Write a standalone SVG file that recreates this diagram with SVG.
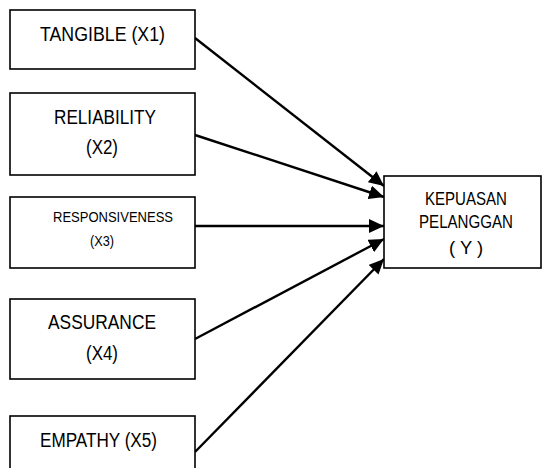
<svg xmlns="http://www.w3.org/2000/svg" width="542" height="468" viewBox="0 0 542 468">
<style>
.box{fill:#fff;stroke:#000;stroke-width:1.6}
.t{font-family:"Liberation Sans",Arial,sans-serif;font-size:19.5px;fill:#000;text-anchor:middle}
.s{font-size:14px}
.r{font-size:18.5px}
.c{stroke:#000;stroke-width:2.4;fill:none;marker-end:url(#ah)}
</style>
<defs>
<marker id="ah" markerUnits="userSpaceOnUse" markerWidth="16" markerHeight="14" refX="15" refY="7" orient="auto">
<path d="M0,0 L15,7 L0,14 Z" fill="#000"/>
</marker>
</defs>
<rect width="542" height="468" fill="#fff"/>
<g id="connectors">
<line class="c" x1="195" y1="38" x2="384" y2="186"/>
<line class="c" x1="195" y1="135" x2="384" y2="197"/>
<line class="c" x1="195" y1="226" x2="384" y2="226"/>
<line class="c" x1="195" y1="339" x2="384" y2="239"/>
<line class="c" x1="195" y1="452" x2="384" y2="259"/>
</g>
<g id="x1">
<rect class="box" x="10" y="10" width="185" height="59"/>
<text class="t" x="102.5" y="41" textLength="125" lengthAdjust="spacingAndGlyphs">TANGIBLE (X1)</text>
</g>
<g id="x2">
<rect class="box" x="10" y="93" width="185" height="82"/>
<text class="t" x="105" y="124" textLength="102" lengthAdjust="spacingAndGlyphs">RELIABILITY</text>
<text class="t" x="102" y="154" textLength="32" lengthAdjust="spacingAndGlyphs">(X2)</text>
</g>
<g id="x3">
<rect class="box" x="10" y="197" width="185" height="71"/>
<text class="t s" x="113" y="221.5" textLength="120" lengthAdjust="spacingAndGlyphs">RESPONSIVENESS</text>
<text class="t s" x="102" y="246" textLength="24" lengthAdjust="spacingAndGlyphs">(X3)</text>
</g>
<g id="x4">
<rect class="box" x="10" y="299" width="185" height="80"/>
<text class="t" x="102" y="329" textLength="108" lengthAdjust="spacingAndGlyphs">ASSURANCE</text>
<text class="t" x="102" y="360" textLength="32" lengthAdjust="spacingAndGlyphs">(X4)</text>
</g>
<g id="x5">
<rect class="box" x="10" y="416" width="185" height="70"/>
<text class="t" x="98.5" y="446.5" textLength="117" lengthAdjust="spacingAndGlyphs">EMPATHY (X5)</text>
</g>
<g id="y">
<rect class="box" x="384" y="176" width="157" height="92"/>
<text class="t r" x="466" y="205" textLength="82" lengthAdjust="spacingAndGlyphs">KEPUASAN</text>
<text class="t r" x="466" y="228" textLength="94" lengthAdjust="spacingAndGlyphs">PELANGGAN</text>
<text class="t r" x="466" y="254" textLength="34" lengthAdjust="spacingAndGlyphs">( Y )</text>
</g>
</svg>
